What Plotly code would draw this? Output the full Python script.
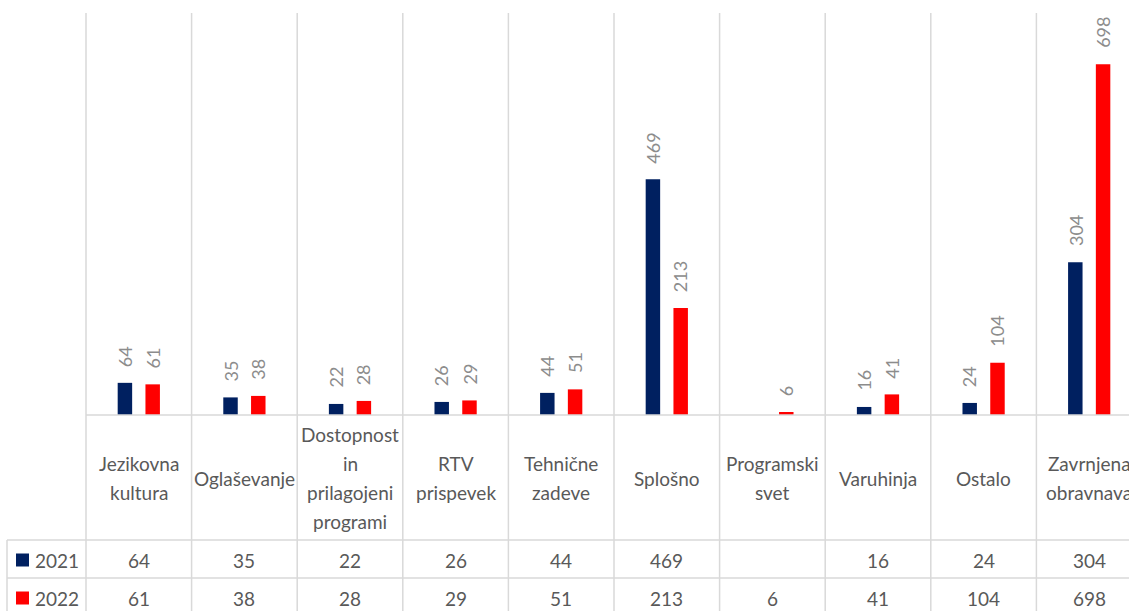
import plotly.graph_objects as go

NAVY = '#002060'
RED = '#ff0000'
GRID = '#d9d9d9'
TXT = '#595959'
LBL = '#8c8c8c'
FONT = 'Lato, sans-serif'

categories = ['Jezikovna<br>kultura', 'Oglaševanje', 'Dostopnost<br>in<br>prilagojeni<br>programi',
              'RTV<br>prispevek', 'Tehnične<br>zadeve', 'Splošno', 'Programski<br>svet',
              'Varuhinja', 'Ostalo', 'Zavrnjena<br>obravnava']
years = ['2021', '2022']
v2021 = [64, 35, 22, 26, 44, 469, None, 16, 24, 304]
v2022 = [61, 38, 28, 29, 51, 213, 6, 41, 104, 698]

W, H = 1129, 611
L, T, B = 86, 13, 196
CAT_PX = 105.6
XMIN = -0.5
XMAX = XMIN + (W - L) / CAT_PX
PLOT_H = H - T - B
LINE_PX = 28.7


def py(p):
    # pixel row -> paper y
    return (H - B - p) / PLOT_H


def px(p):
    # pixel column -> paper x
    return (p - L) / (W - L)


def dx(v):
    # data x -> paper x
    return (v - XMIN) / (XMAX - XMIN)


xs = list(range(len(categories)))
fig = go.Figure()
fig.add_trace(go.Bar(x=xs, y=v2021, name='2021', marker=dict(color=NAVY, line=dict(width=0)),
                     width=0.137, offset=-0.2))
fig.add_trace(go.Bar(x=xs, y=v2022, name='2022', marker=dict(color=RED, line=dict(width=0)),
                     width=0.137, offset=0.063))

shapes = []
ann = []
line = dict(color=GRID, width=1.5)

# vertical category separators through chart and table
for k in range(len(categories) + 1):
    xp = dx(k - 0.5)
    if xp <= 1.0:
        shapes.append(dict(type='line', xref='paper', yref='paper', x0=xp, x1=xp,
                           y0=1, y1=py(H + 5), line=line))
# legend column left border
shapes.append(dict(type='line', xref='paper', yref='paper', x0=px(7), x1=px(7),
                   y0=py(540), y1=py(H + 5), line=line))
# horizontal table lines
shapes.append(dict(type='line', xref='paper', yref='paper', x0=0, x1=1.02, y0=0, y1=0, line=line))
for yy in (540, 578):
    shapes.append(dict(type='line', xref='paper', yref='paper', x0=px(7), x1=1.02,
                       y0=py(yy), y1=py(yy), line=line))

# category header labels, one annotation per line to control spacing
for i, c in enumerate(categories):
    parts = c.split('<br>')
    top = 478 - LINE_PX * (len(parts) - 1) / 2
    for j, t in enumerate(parts):
        ann.append(dict(x=i, xref='x', y=py(top + j * LINE_PX), yref='paper', text=t,
                        showarrow=False, yanchor='middle',
                        font=dict(size=19, color=TXT, family=FONT)))

# rotated data labels above bars
for vals, off in ((v2021, -0.1315), (v2022, 0.1315)):
    for i, v in enumerate(vals):
        if v is None:
            continue
        ann.append(dict(x=i + off, xref='x', y=v, yref='y', text=str(v), showarrow=False,
                        textangle=-90, yanchor='bottom', yshift=14,
                        font=dict(size=18, color=LBL, family=FONT)))

# table rows
for yr, vals, col, yc in (('2021', v2021, NAVY, 560), ('2022', v2022, RED, 598)):
    shapes.append(dict(type='rect', xref='paper', yref='paper', x0=px(16), x1=px(29),
                       y0=py(yc + 6.5), y1=py(yc - 6.5), fillcolor=col, line=dict(width=0)))
    ann.append(dict(x=px(33), xref='paper', y=py(yc), yref='paper', text=yr, showarrow=False,
                    xanchor='left', yanchor='middle', font=dict(size=19, color=TXT, family=FONT)))
    for i, v in enumerate(vals):
        if v is None:
            continue
        ann.append(dict(x=i, xref='x', y=py(yc), yref='paper', text=str(v), showarrow=False,
                        yanchor='middle', font=dict(size=19, color=TXT, family=FONT)))

fig.update_layout(
    width=W, height=H,
    margin=dict(l=L, r=0, t=T, b=B, pad=0),
    paper_bgcolor='white', plot_bgcolor='white',
    barmode='overlay', showlegend=False,
    shapes=shapes, annotations=ann,
    font=dict(family=FONT, color=TXT),
)
fig.update_xaxes(range=[XMIN, XMAX], showgrid=False, showticklabels=False, zeroline=False,
                 showline=False, ticks='')
fig.update_yaxes(range=[0, 800], showgrid=False, showticklabels=False, zeroline=False,
                 showline=False, ticks='')

fig.write_html('out.html', config={'displayModeBar': False},
               post_script="document.body.style.margin='0';document.body.style.overflow='hidden';")
